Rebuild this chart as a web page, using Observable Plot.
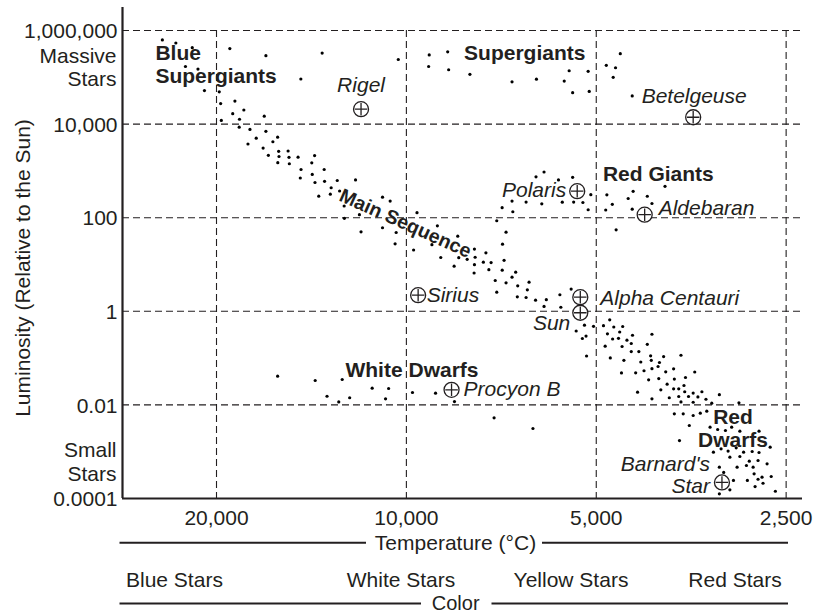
<!DOCTYPE html>
<html>
<head>
<meta charset="utf-8">
<script src="https://cdn.jsdelivr.net/npm/d3@7"></script>
<script src="https://cdn.jsdelivr.net/npm/@observablehq/plot@0.6"></script>
<style>
  html, body { margin: 0; padding: 0; background: #fff; }
  #chart { width: 828px; height: 614px; }
</style>
</head>
<body>
<div id="chart"></div>
<script>
// ---------------- DATA ----------------
// Temperature in °C, luminosity relative to the Sun
const superT = [24370, 23200, 21850, 19050, 16700, 13600, 22400, 21400, 14700, 20900, 19800, 10300,
  9200, 8600, 9220, 8570, 7930, 6800, 6220, 5620, 5520, 5150, 5450, 5130, 4820, 4660, 4580, 4700, 4385];
const superL = [630000, 540000, 430000, 410000, 290000, 330000, 170000, 150000, 92000, 52000, 49000, 240000,
  300000, 350000, 170000, 145000, 116000, 80000, 91000, 83000, 138000, 134000, 47000, 50000, 180000, 160000, 320000, 100000, 40000];

const upperMainT = [19700, 18700, 18850, 18100, 19650, 18390, 16800, 18410, 17700, 16700, 17300, 16000, 16280, 17830,
  16870, 15940, 15400, 16550, 15920, 15350, 14850, 13980, 15990, 15330, 14125, 14690, 13500, 14100, 14730, 13960,
  13480, 12870, 12040, 13160, 12760, 13770, 13200, 12550, 12540, 11870, 11800, 10910, 10610, 10910, 10380, 10420,
  9620, 9740, 8930, 9110, 8290, 8820, 8260, 8400, 8010, 7800, 7780, 7480, 7800, 7550, 7340, 7400, 7810, 7048, 7000,
  7040, 6950, 7190, 7050, 6780, 6800, 6460, 6100, 6230, 6050, 5740, 5450, 5660, 5430, 5250, 5150, 5100];
const upperMainL = [27500, 31000, 16700, 20000, 12000, 12700, 14800, 8600, 7700, 7000, 5000, 5250, 4200, 3760,
  3080, 2620, 2660, 2150, 2030, 1950, 1960, 2120, 1500, 1420, 1490, 1070, 1070, 840, 705, 565,
  600, 624, 640, 436, 372, 288, 318, 178, 97, 116, 50, 274, 227, 61, 48.3, 27.7,
  128, 20.4, 67, 26.5, 40.3, 14.1, 14.0, 9.2, 12.9, 21.4, 14.3, 17.8, 9.9, 11.2, 11.0, 7.74, 6.58, 7.55, 12.3,
  27.2, 49, 86, 164, 134, 227, 216, 198, 748, 947, 640, 730, 215, 216, 211, 148, 310];

const giantT = [4810, 4715, 4830, 4450, 4370, 4150, 4080, 4385, 4650, 3890];
const giantL = [308, 193, 146, 257, 366, 287, 201, 152, 55, 469];

const lowerMainT = [7230, 6950, 6800, 6710, 7190, 6660, 6390, 6430, 6670, 6460, 6240, 6000, 6050, 5710, 5690, 5480, 5220, 5050,
  5380, 5190, 5260, 5180, 4870, 4760, 4690, 4540, 4800, 4710, 4610, 4590, 4470, 4380, 4080, 4840, 4550, 4400, 4400,
  4280, 4150, 4750, 4520, 4250, 4100, 4090, 3910, 3670, 3970, 4560, 4330, 4200, 4080, 3990, 3880, 3770, 4130, 3980,
  3860, 3760, 3610, 3490, 4300, 4080, 3950, 3830, 3770, 3700, 3630, 3700, 3620, 3570, 3510, 3450, 3670, 3510, 3400,
  3190, 3350, 3280, 2970];
const lowerMainL = [4.55, 4.06, 5.36, 6.84, 2.56, 3.51, 4.19, 2.88, 2.04, 1.97, 1.73, 1.77, 1.27, 2.26, 1.22, 2.99, 0.505, 0.478,
  0.379, 0.296, 0.262, 0.111, 0.492, 0.658, 0.462, 0.473, 0.330, 0.256, 0.265, 0.361, 0.241, 0.308, 0.323, 0.180, 0.177, 0.205, 0.138,
  0.138, 0.197, 0.101, 0.0897, 0.0826, 0.112, 0.0897, 0.108, 0.115, 0.0805, 0.0481, 0.0485, 0.0536, 0.0594, 0.0662, 0.0509, 0.0590, 0.0344, 0.0366,
  0.0277, 0.0357, 0.0385, 0.0505, 0.0187, 0.0135, 0.0210, 0.0142, 0.0221, 0.0221, 0.0260, 0.0151, 0.0191, 0.0151, 0.0179, 0.0148, 0.0116, 0.0114, 0.0191,
  0.0165, 0.0132, 0.0109, 0.0111];

const redDwarfT = [3760, 3640, 3510, 3420, 3340, 3560, 3300, 3210, 3120, 3050, 2960, 2760, 3690, 2650, 3260, 3170, 3090, 3000,
  2920, 2830, 2760, 3070, 2960, 2860, 2770, 2680, 3190, 2990, 2890, 2820, 3140, 2810, 2730, 2640, 3030, 2880, 2770, 2720,
  3070, 2800, 3190, 2600];
const redDwarfL = [0.00646, 0.00646, 0.00594, 0.00665, 0.00733, 0.00363, 0.00334, 0.00298, 0.00284, 0.00334, 0.00274, 0.00274,
  0.00173, 0.00125, 0.000975, 0.00115, 0.00103, 0.00121, 0.000975, 0.00101, 0.000962, 0.000762, 0.000789, 0.000627, 0.000649,
  0.000551, 0.000467, 0.000467, 0.000507, 0.000467, 0.000360, 0.000337, 0.000285, 0.000295, 0.000243, 0.000243, 0.000258,
  0.000212, 0.000153, 0.000180, 0.000126, 0.000143];

const whiteDwarfT = [16000, 13950, 12640, 13360, 12800, 12300, 11330, 10670, 10790, 9780, 8990, 8390, 7260, 6300];
const whiteDwarfL = [0.0410, 0.0332, 0.0349, 0.0153, 0.0116, 0.0142, 0.0228, 0.0224, 0.0135, 0.0184, 0.0178, 0.0118, 0.00530, 0.00313];

// Named stars (⊕)
const starNames = ["Rigel", "Betelgeuse", "Polaris", "Aldebaran", "Sirius", "Alpha Centauri", "Sun", "Procyon B", "Barnard's\nStar"];
const starT = [11800, 3510, 5360, 4190, 9580, 5300, 5300, 8480, 3160];
const starL = [20800, 14000, 368, 116, 2.21, 2.0, 0.93, 0.021, 0.00022];

// Region labels
const regionNames = ["Blue\nSupergiants", "Supergiants", "Red Giants", "Main Sequence", "White Dwarfs", "Red\nDwarfs"];
const regionT = [25000, 8100, 4880, 10030, 12490, 3035];
const regionL = [75000, 229000, 620, 77, 0.039, 0.00125];

// Axes
const lumTicks = [1e6, 1e4, 100, 1, 0.01, 0.0001];
const lumTickLabels = ["1,000,000", "10,000", "100", "1", "0.01", "0.0001"];
const tempTicks = [20000, 10000, 5000, 2500];
const tempTickLabels = ["20,000", "10,000", "5,000", "2,500"];
const sizeNotes = ["Massive\nStars", "Small\nStars"];
const colorBands = ["Blue Stars", "White Stars", "Yellow Stars", "Red Stars"];
const yTitle = "Luminosity (Relative to the Sun)";
const xTitle = "Temperature (°C)";
const colorTitle = "Color";

// ---------------- BUILD ----------------
const FONT = '"Liberation Sans", Arial, Helvetica, sans-serif';
const INK = "#231f20";
const FS = 21;

const stars = [];
[[superT, superL], [upperMainT, upperMainL], [giantT, giantL], [lowerMainT, lowerMainL],
 [redDwarfT, redDwarfL], [whiteDwarfT, whiteDwarfL]].forEach(([T, L]) =>
  T.forEach((t, i) => stars.push({temp: t, lum: L[i]})));

const named = starNames.map((n, i) => ({name: n, temp: starT[i], lum: starL[i]}));
const regions = regionNames.map((n, i) => ({name: n, temp: regionT[i], lum: regionL[i]}));

// label placement relative to each ⊕ (styles, not data)
const starLabelStyle = {
  "Rigel": {dx: 0, dy: -17, textAnchor: "middle"},
  "Betelgeuse": {dx: 1, dy: -14.5, textAnchor: "middle"},
  "Polaris": {dx: -11, dy: 6, textAnchor: "end"},
  "Aldebaran": {dx: 14, dy: 0, textAnchor: "start"},
  "Sirius": {dx: 8.5, dy: 7, textAnchor: "start"},
  "Alpha Centauri": {dx: 20, dy: 7.3, textAnchor: "start"},
  "Sun": {dx: -10, dy: 17.7, textAnchor: "end"},
  "Procyon B": {dx: 12, dy: 5.7, textAnchor: "start"},
  "Barnard's\nStar": {dx: -12, dy: 10.7, textAnchor: "end"}
};
const regionStyle = {
  "Blue\nSupergiants": {textAnchor: "start"},
  "Supergiants": {textAnchor: "start"},
  "Red Giants": {textAnchor: "start"},
  "Main Sequence": {textAnchor: "middle", rotate: 24, lineAnchor: "middle", fontSize: 19.5},
  "White Dwarfs": {textAnchor: "start"},
  "Red\nDwarfs": {textAnchor: "middle"}
};

const plusSymbol = {
  draw(ctx, size) {
    const r = Math.sqrt(size / Math.PI);
    ctx.moveTo(-r, 0); ctx.lineTo(r, 0);
    ctx.moveTo(0, -r); ctx.lineTo(0, r);
  }
};

const xDomain = [28188, 2355];
const yDomain = [1e-4, 3.1e6];

const plot = Plot.plot({
  width: 828,
  height: 614,
  marginLeft: 122,
  marginRight: 26,
  marginTop: 7,
  marginBottom: 116,
  x: {type: "log", domain: xDomain, axis: null},
  y: {type: "log", domain: yDomain, axis: null},
  style: {fontFamily: FONT, fontSize: FS + "px", color: INK, background: "#fff"},
  marks: [
    // dashed grid
    Plot.ruleY(lumTicks.slice(0, 5), {y: d => d, stroke: INK, strokeWidth: 1.1, strokeDasharray: "7,4"}),
    Plot.ruleX(tempTicks, {x: d => d, y1: lumTicks[0], y2: lumTicks[5], stroke: INK, strokeWidth: 1.1, strokeDasharray: "7,4"}),
    // axis lines
    Plot.ruleX([xDomain[0]], {stroke: INK, strokeWidth: 2.2}),
    Plot.ruleY([lumTicks[5]], {stroke: INK, strokeWidth: 2.2}),
    // stars
    Plot.dot(stars, {x: "temp", y: "lum", r: 1.6, fill: "#000", stroke: "none"}),
    // region labels
    ...regions.map(d => Plot.text([d], {
      x: "temp", y: "lum", text: "name",
      fontWeight: "bold", fill: INK,
      fontSize: regionStyle[d.name].fontSize || FS,
      textAnchor: regionStyle[d.name].textAnchor,
      lineAnchor: regionStyle[d.name].lineAnchor || "bottom",
      rotate: regionStyle[d.name].rotate || 0,
      lineHeight: 1.08
    })),
    // named star symbols
    Plot.dot(named, {x: "temp", y: "lum", r: 7.5, fill: "#fff", stroke: INK, strokeWidth: 1.3}),
    Plot.dot(named, {x: "temp", y: "lum", r: 6.3, symbol: plusSymbol, fill: "none", stroke: INK, strokeWidth: 1.3}),
    // named star labels
    ...named.map(d => Plot.text([d], {
      x: "temp", y: "lum", text: "name",
      fontStyle: "italic", fill: INK, fontSize: FS,
      lineAnchor: "bottom", lineHeight: 1.08,
      ...starLabelStyle[d.name]
    })),
    // y tick labels
    Plot.text(lumTicks, {y: d => d, text: (d, i) => lumTickLabels[i], frameAnchor: "left",
      dx: -5, dy: 1, textAnchor: "end", lineAnchor: "middle", fill: INK, fontSize: FS}),
    Plot.text([sizeNotes[0]], {y: () => lumTicks[0], text: d => d, frameAnchor: "left",
      dx: -6, dy: 56, textAnchor: "end", lineAnchor: "bottom", lineHeight: 1.11, fill: INK, fontSize: FS}),
    Plot.text([sizeNotes[1]], {y: () => lumTicks[5], text: d => d, frameAnchor: "left",
      dx: -6, dy: -18, textAnchor: "end", lineAnchor: "bottom", lineHeight: 1.11, fill: INK, fontSize: FS}),
    // x tick labels
    Plot.text(tempTicks, {x: d => d, text: (d, i) => tempTickLabels[i], frameAnchor: "bottom",
      dy: 19.5, textAnchor: "middle", lineAnchor: "middle", fill: INK, fontSize: FS}),
    // y title
    Plot.text([yTitle], {text: d => d, frameAnchor: "left", dx: -99, dy: 15, rotate: -90,
      textAnchor: "middle", lineAnchor: "middle", fill: INK, fontSize: FS})
  ]
});

document.getElementById("chart").appendChild(plot);

// bottom annotation band: temperature and colour captions with rules
const svg = d3.select(plot);
const g = svg.append("g")
  .attr("font-family", FONT).attr("font-size", FS).attr("fill", INK);
const line = (x1, x2, y) => g.append("line").attr("x1", x1).attr("x2", x2).attr("y1", y).attr("y2", y)
  .attr("stroke", INK).attr("stroke-width", 2);
g.append("text").attr("x", 455.5).attr("y", 550).attr("text-anchor", "middle").text(xTitle);
line(119.5, 366, 542.7);
line(542, 788, 542.7);
const bandX = [126, 401, 571, 735];
const bandAnchor = ["start", "middle", "middle", "middle"];
colorBands.forEach((t, i) => g.append("text").attr("x", bandX[i]).attr("y", 587.3)
  .attr("text-anchor", bandAnchor[i]).text(t));
g.append("text").attr("x", 455.7).attr("y", 609.5).attr("text-anchor", "middle")
  .attr("font-size", 20).text(colorTitle);
line(119.5, 421, 603.5);
line(491.5, 788, 603.5);
</script>
</body>
</html>
